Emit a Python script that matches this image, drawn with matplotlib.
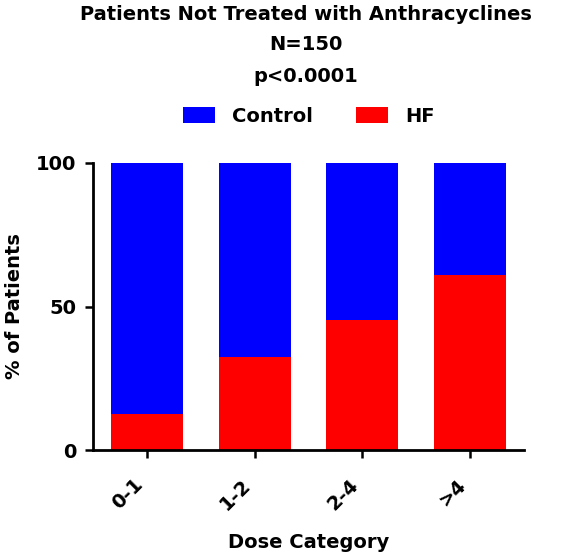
import matplotlib
matplotlib.use("Agg")
import matplotlib.pyplot as plt
import numpy as np

# values (percent of patients)
categories = ["0-1", "1-2", "2-4", ">4"]
hf_pct = [12.5, 32.4, 45.3, 61.0]
control_pct = [87.5, 67.6, 54.7, 39.0]
yticks = [0, 50, 100]

plt.rcParams['font.family'] = ['DejaVu Sans']
plt.rcParams['font.weight'] = 'bold'
plt.rcParams['font.size'] = 14

W, H = 575, 556
fig = plt.figure(figsize=(W / 100, H / 100), dpi=100)
ax = fig.add_axes([93 / W, 1 - 450 / H, (524 - 93) / W, (450 - 163) / H])

x = np.arange(len(categories))
bars_hf = ax.bar(x, hf_pct, width=0.67, color='#ff0000', label='HF')
bars_ctl = ax.bar(x, control_pct, bottom=hf_pct, width=0.67,
                  color='#0000ff', label='Control')

ax.set_xlim(-0.5, 3.5)
ax.set_ylim(0, 100)
ax.set_yticks(yticks)
ax.set_xticks(x)
ax.set_xticklabels(categories, rotation=45, ha='right')

for s in ['top', 'right']:
    ax.spines[s].set_visible(False)
for s in ['left', 'bottom']:
    ax.spines[s].set_linewidth(2)
ax.tick_params(axis='both', width=1.8, length=6, labelsize=14)
ax.tick_params(axis='y', pad=6)
ax.tick_params(axis='x', pad=12)

ax.set_ylabel('% of Patients', fontsize=14, fontweight='bold')
ax.yaxis.set_label_coords(-0.16, 0.5)
ax.set_xlabel('Dose Category', fontsize=14, fontweight='bold')
ax.xaxis.set_label_coords(0.5, -0.29)

# title block
cx = 306 / W
fig.text(cx, 1 - 14 / H, 'Patients Not Treated with Anthracyclines',
         ha='center', va='center', fontsize=14, fontweight='bold')
fig.text(cx, 1 - 45 / H, 'N=150', ha='center', va='center',
         fontsize=14, fontweight='bold')
fig.text(cx, 1 - 77 / H, 'p<0.0001', ha='center', va='center',
         fontsize=14, fontweight='bold')

fig.legend(handles=[bars_ctl, bars_hf], labels=['Control', 'HF'],
           loc='center', bbox_to_anchor=(309 / W, 1 - 116 / H), ncol=2,
           frameon=False, handlelength=1.65, handleheight=0.9,
           handletextpad=0.9, columnspacing=2.2, fontsize=14)

fig.savefig('out.png', dpi=100)
